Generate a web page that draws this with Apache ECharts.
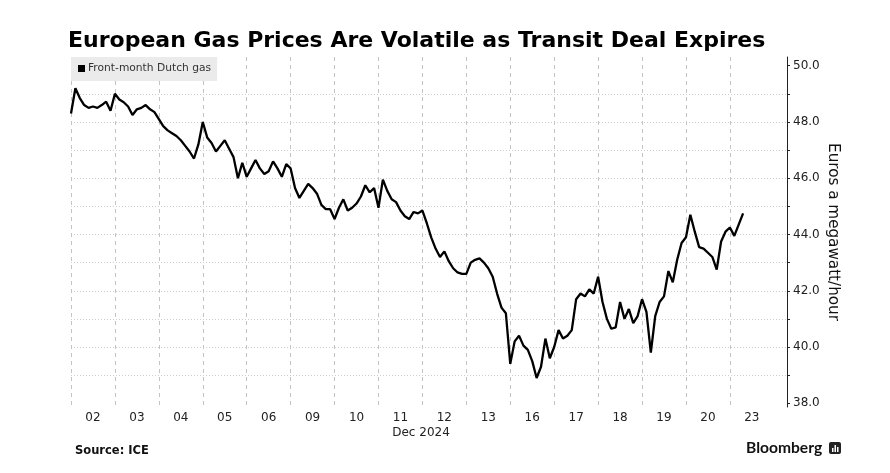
<!DOCTYPE html>
<html>
<head>
<meta charset="utf-8">
<script src="https://cdn.jsdelivr.net/npm/echarts@6/dist/echarts.min.js"></script>
<style>
  html, body { margin: 0; padding: 0; background: #fff; }
  #chart { width: 890px; height: 473px; }
</style>
</head>
<body>
<div id="chart"></div>
<script>
// Trading days (Dec 2024) shown on the x axis
const dayLabels = ['02','03','04','05','06','09','10','11','12','13','16','17','18','19','20','23'];

// Front-month Dutch gas, EUR/MWh, ~10 readings per trading day
const d02 = [48.3, 49.2, 48.85, 48.6, 48.5, 48.55, 48.5, 48.6, 48.72, 48.4];
const d03 = [49.0, 48.8, 48.7, 48.55, 48.25, 48.45, 48.5, 48.6, 48.45, 48.35];
const d04 = [48.1, 47.85, 47.7, 47.6, 47.5, 47.35, 47.15, 46.95, 46.7, 47.2];
const d05 = [48.0, 47.45, 47.25, 46.95, 47.15, 47.35, 47.05, 46.75, 46.0, 46.55];
const d06 = [46.05, 46.35, 46.65, 46.35, 46.15, 46.25, 46.6, 46.35, 46.05, 46.5];
const d09 = [46.35, 45.65, 45.3, 45.55, 45.8, 45.65, 45.45, 45.05, 44.9, 44.9];
const d10 = [44.55, 44.95, 45.25, 44.85, 44.95, 45.1, 45.35, 45.75, 45.5, 45.65];
const d11 = [44.95, 45.95, 45.55, 45.25, 45.15, 44.85, 44.65, 44.55, 44.8, 44.75];
const d12 = [44.85, 44.4, 43.9, 43.5, 43.2, 43.4, 43.05, 42.8, 42.65, 42.6];
const d13 = [42.6, 43.0, 43.1, 43.15, 43.0, 42.8, 42.5, 41.9, 41.4, 41.2];
const d16 = [39.4, 40.2, 40.4, 40.05, 39.9, 39.5, 38.9, 39.3, 40.3, 39.6];
const d17 = [40.0, 40.6, 40.3, 40.4, 40.6, 41.7, 41.9, 41.8, 42.05, 41.9];
const d18 = [42.5, 41.6, 41.0, 40.65, 40.7, 41.6, 41.0, 41.35, 40.85, 41.1];
const d19 = [41.7, 41.25, 39.8, 41.1, 41.6, 41.8, 42.7, 42.3, 43.1, 43.7];
const d20 = [43.9, 44.7, 44.1, 43.55, 43.5, 43.35, 43.2, 42.75, 43.75, 44.1];
const d23 = [44.25, 43.95, 44.35, 44.75];

const dailyPrices = [d02, d03, d04, d05, d06, d09, d10, d11, d12, d13, d16, d17, d18, d19, d20, d23];

// Y axis ticks / labels
const yTicks = [38, 39, 40, 41, 42, 43, 44, 45, 46, 47, 48, 49, 50];
const yLabels = [38, 40, 42, 44, 46, 48, 50];

const slotsPerDay = 10;
const totalSlots = 164;

const categories = [];
for (let i = 0; i < totalSlots; i++) {
  const d = Math.floor(i / slotsPerDay);
  categories.push((dayLabels[d] || '') + '|' + i);
}
const seriesData = [];
dailyPrices.forEach(arr => arr.forEach(v => seriesData.push(v)));

const chart = echarts.init(document.getElementById('chart'), null, { renderer: 'canvas' });
const FONT = 'DejaVu Sans';

chart.setOption({
  animation: false,
  backgroundColor: '#ffffff',
  title: {
    text: 'European Gas Prices Are Volatile as Transit Deal Expires',
    left: 68,
    top: 30,
    padding: 0,
    textStyle: { fontFamily: FONT, fontWeight: 'bold', fontSize: 22, color: '#000' }
  },
  legend: {
    left: 71,
    top: 57,
    orient: 'horizontal',
    backgroundColor: '#ebebeb',
    padding: [6, 6, 7, 7],
    itemWidth: 7,
    itemHeight: 7,
    icon: 'rect',
    textStyle: { fontFamily: FONT, fontSize: 10.7, color: '#333', padding: [0, 0, 0, -2] },
    data: ['Front-month Dutch gas']
  },
  grid: { left: 71, right: 103, top: 57, bottom: 66 },
  xAxis: {
    type: 'category',
    data: categories,
    boundaryGap: false,
    axisLine: { show: false },
    axisTick: { show: false },
    axisLabel: {
      interval: (index) => index % slotsPerDay === 5,
      formatter: (v) => v.split('|')[0],
      fontFamily: FONT,
      fontSize: 12,
      color: '#222',
      margin: 5
    },
    splitLine: {
      show: true,
      interval: (index) => index % slotsPerDay === 0 && index <= 150,
      lineStyle: { color: '#c4c4c4', type: [4, 4], width: 1 }
    }
  },
  yAxis: {
    type: 'value',
    position: 'right',
    min: 37.868,
    max: 50.309,
    splitNumber: 6,
    name: 'Euros a megawatt/hour',
    nameLocation: 'middle',
    nameRotate: -90,
    nameGap: 38,
    nameMoveOverlap: false,
    nameTextStyle: { fontFamily: FONT, fontSize: 15.2, color: '#111' },
    axisLine: { show: true, lineStyle: { color: '#222', width: 1 } },
    axisTick: { show: true, customValues: yTicks, length: 3, lineStyle: { color: '#222' } },
    axisLabel: {
      customValues: yLabels,
      formatter: (v) => Number(v).toFixed(1),
      fontFamily: FONT,
      fontSize: 12,
      color: '#222',
      margin: 6
    },
    splitLine: {
      show: true,
      showMinLine: false,
      showMaxLine: false,
      lineStyle: { color: '#cfcfcf', type: [1, 2], width: 1 }
    }
  },
  series: [{
    name: 'Front-month Dutch gas',
    type: 'line',
    data: seriesData,
    symbol: 'none',
    showSymbol: false,
    itemStyle: { color: '#000' },
    lineStyle: { color: '#000', width: 2.3 }
  }],
  graphic: [
    {
      type: 'text', x: 421, y: 433,
      style: { text: 'Dec 2024', font: '12px "DejaVu Sans"', fill: '#222', textAlign: 'center', textVerticalAlign: 'middle' }
    },
    {
      type: 'text', x: 75, y: 451,
      style: { text: 'Source: ICE', font: 'bold 11.5px "DejaVu Sans"', fill: '#111', textAlign: 'left', textVerticalAlign: 'middle' }
    },
    {
      type: 'text', x: 746, y: 448,
      style: { text: 'Bloomberg', font: 'bold 15.6px Lato', fill: '#111', textAlign: 'left', textVerticalAlign: 'middle' }
    },
    {
      type: 'group', x: 829, y: 442,
      children: [
        { type: 'rect', shape: { x: 0, y: 0, width: 12, height: 12, r: 2 }, style: { fill: '#222' } },
        { type: 'rect', shape: { x: 3, y: 6, width: 1.5, height: 4 }, style: { fill: '#fff' } },
        { type: 'rect', shape: { x: 5.5, y: 3, width: 1.5, height: 7 }, style: { fill: '#fff' } },
        { type: 'rect', shape: { x: 8, y: 5, width: 1.5, height: 5 }, style: { fill: '#fff' } }
      ]
    }
  ]
});
</script>
</body>
</html>
